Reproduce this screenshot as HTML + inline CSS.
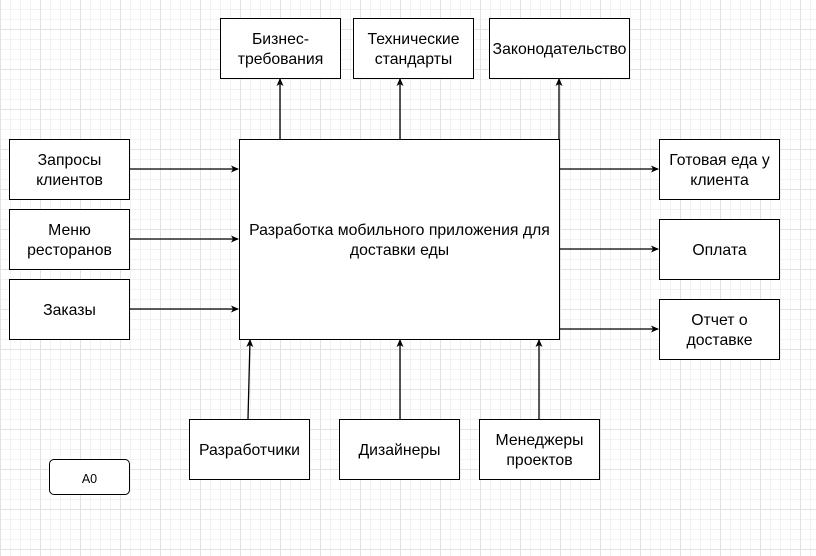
<!DOCTYPE html>
<html><head><meta charset="utf-8"><style>
html,body{margin:0;padding:0}
body{width:816px;height:556px;position:relative;overflow:hidden;background:#fff;
background-image:linear-gradient(#e2e2e2 1px,transparent 1px),linear-gradient(90deg,#e2e2e2 1px,transparent 1px),linear-gradient(#f2f2f2 1px,transparent 1px),linear-gradient(90deg,#f2f2f2 1px,transparent 1px);
background-size:40px 40px,40px 40px,10px 10px,10px 10px;
background-position:0 29px,0 0,0 9px,0 0;
font-family:"Liberation Sans",sans-serif;font-size:15.8px;color:#000}
.b{position:absolute;box-sizing:border-box;border:1.3px solid #000;background:#fff;display:flex;align-items:center;justify-content:center;text-align:center;line-height:20px;white-space:nowrap;padding-top:3px}
svg{position:absolute;left:0;top:0}
</style></head><body>
<svg width="816" height="556">
<defs><marker id="a" markerWidth="8" markerHeight="8" refX="7" refY="4" orient="auto" markerUnits="userSpaceOnUse"><path d="M0,0.5 L8,4 L0,7.5 L2,4z" fill="#000"/></marker></defs>
<g stroke="#000" stroke-width="1.3" fill="none" marker-end="url(#a)">
<line x1="129" y1="169" x2="238" y2="169"/>
<line x1="129" y1="239" x2="238" y2="239"/>
<line x1="129" y1="309" x2="238" y2="309"/>
<line x1="280" y1="139" x2="280" y2="79"/>
<line x1="400" y1="139" x2="400" y2="79"/>
<line x1="559" y1="139" x2="559" y2="79"/>
<line x1="559" y1="169" x2="658" y2="169"/>
<line x1="559" y1="249" x2="658" y2="249"/>
<line x1="559" y1="329" x2="658" y2="329"/>
<line x1="248" y1="419" x2="250" y2="340"/>
<line x1="400" y1="419" x2="400" y2="340"/>
<line x1="539" y1="419" x2="539" y2="340"/>
</g></svg>
<div class="b" style="left:239px;top:139px;width:321px;height:201px;padding-left:4px;padding-right:4px;white-space:normal">Разработка мобильного приложения для доставки еды</div>
<div class="b" style="left:220px;top:18px;width:121px;height:61px">Бизнес-<br>требования</div>
<div class="b" style="left:353px;top:18px;width:121px;height:61px">Технические<br>стандарты</div>
<div class="b" style="left:489px;top:18px;width:141px;height:61px">Законодательство</div>
<div class="b" style="left:9px;top:139px;width:121px;height:61px">Запросы<br>клиентов</div>
<div class="b" style="left:9px;top:209px;width:121px;height:61px">Меню<br>ресторанов</div>
<div class="b" style="left:9px;top:279px;width:121px;height:61px">Заказы</div>
<div class="b" style="left:659px;top:139px;width:121px;height:61px">Готовая еда у<br>клиента</div>
<div class="b" style="left:659px;top:219px;width:121px;height:61px">Оплата</div>
<div class="b" style="left:659px;top:299px;width:121px;height:61px">Отчет о<br>доставке</div>
<div class="b" style="left:189px;top:419px;width:121px;height:61px">Разработчики</div>
<div class="b" style="left:339px;top:419px;width:121px;height:61px">Дизайнеры</div>
<div class="b" style="left:479px;top:419px;width:121px;height:61px">Менеджеры<br>проектов</div>
<div class="b" style="left:49px;top:459px;width:81px;height:36px;border-radius:5px;font-size:12.5px">A0</div>
</body></html>
